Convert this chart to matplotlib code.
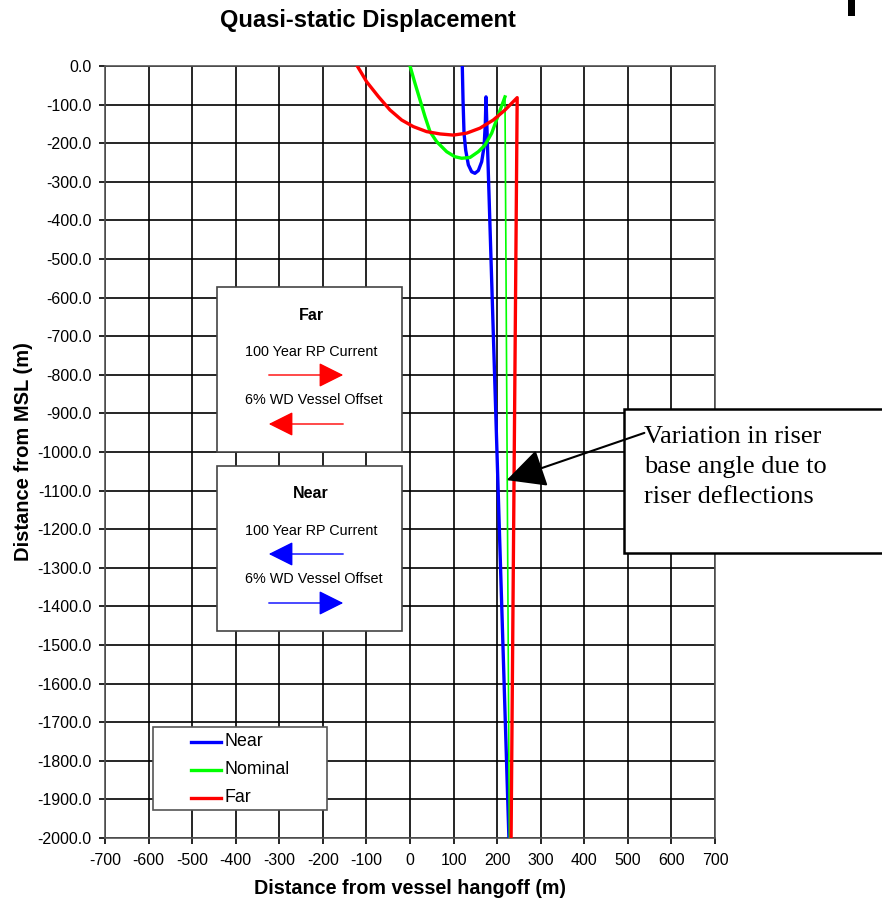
import numpy as np
import matplotlib
matplotlib.use("Agg")
from matplotlib import pyplot as plt
from matplotlib.patches import Rectangle, FancyArrowPatch

plt.rcParams["axes.unicode_minus"] = False

# riser shapes (x = distance from hangoff, y = depth)
near_x = [120, 121.7, 124, 127.8, 133.9, 141.5, 149, 156.8, 164.5, 170, 172.9, 174.4, 227]
near_y = [0, -88, -174, -218, -256, -274, -278, -271, -248, -209, -148, -80, -2000]
nominal_x = [0, 11.5, 23, 34.4, 45.9, 61.2, 84.2, 103, 118.6, 137.7, 156.8, 172, 187.5, 202.7, 218]
nominal_y = [0, -45, -88, -131, -170, -196, -222, -235, -239, -237, -222, -205, -174, -127, -80]
nominal_line_x = [218, 228]
nominal_line_y = [-80, -2000]
far_x = [-121, -99.4, -72.7, -45.9, -19.1, 7.6, 38.2, 68.9, 99.5, 130, 160.7, 191, 218, 246, 232]
far_y = [0, -41, -79, -114, -140, -157, -170, -176, -179, -174, -161, -140, -114, -82, -2000]

x_ticks = list(range(-700, 701, 100))
y_ticks = list(range(0, -2001, -100))

fig = plt.figure(figsize=(8.82, 9.07), dpi=100)
ax = fig.add_axes([105 / 882, 69 / 907, 610 / 882, 772 / 907])

ax.plot(near_x, near_y, color="#0000ff", lw=2.4, zorder=3)
ax.plot(nominal_x, nominal_y, color="#00ff00", lw=2.4, zorder=3)
ax.plot(nominal_line_x, nominal_line_y, color="#00ff00", lw=1.2, zorder=3)
ax.plot(far_x, far_y, color="#ff0000", lw=2.4, zorder=3)

ax.set_xlim(-700, 700)
ax.set_ylim(-2000, 0)
ax.set_xticks(x_ticks)
ax.set_yticks(y_ticks)
ax.set_yticklabels(["%.1f" % v for v in y_ticks])
ax.grid(True, color="black", lw=1.2)
ax.set_axisbelow(True)
for s in ax.spines.values():
    s.set_color("#555555")
    s.set_linewidth(1.2)
ax.tick_params(direction="out", length=4.5, width=1.2, colors="black",
               labelsize=11.5, pad=5)
ax.tick_params(axis="x", pad=6.5)
for lab in ax.get_xticklabels() + ax.get_yticklabels():
    lab.set_family("Liberation Sans")

ax.set_xlabel("Distance from vessel hangoff (m)", family="Liberation Sans",
              fontsize=14.2, fontweight="bold", labelpad=8)
ax.set_ylabel("Distance from MSL (m)", family="Liberation Sans",
              fontsize=14.5, fontweight="bold", labelpad=3)
fig.text(368 / 882, 1 - 21 / 907, "Quasi-static Displacement", ha="center",
         va="center", family="Liberation Sans", fontsize=17, fontweight="bold")

# legend drawn by hand in pixel coords
def px(x, y):
    return x / 882, 1 - y / 907

fig.patches.append(Rectangle(px(153, 810), 174 / 882, 83 / 907, transform=fig.transFigure,
                             facecolor="white", edgecolor="#555555", lw=1.2, zorder=5))
for name, col, yy in [("Near", "#0000ff", 742), ("Nominal", "#00ff00", 770), ("Far", "#ff0000", 798)]:
    fig.lines.append(plt.Line2D([191 / 882, 221 / 882], [1 - yy / 907] * 2,
                                transform=fig.transFigure, color=col, lw=2.4, zorder=6))
    fig.text(224 / 882, 1 - yy / 907, name, ha="left", va="center",
             family="Liberation Sans", fontsize=12.8, zorder=6)

# direction boxes
def dir_box(top, title, col, first_right):
    fig.patches.append(Rectangle(px(217, top + 165), 185 / 882, 165 / 907,
                                 transform=fig.transFigure, facecolor="white",
                                 edgecolor="#444444", lw=1.2, zorder=5))
    fig.text(*px(311, top + 28), title, ha="center", va="center", family="Liberation Sans",
             fontsize=11.5, fontweight="bold", zorder=6)
    fig.text(*px(311, top + 65), "100 Year RP Current", ha="center", va="center",
             family="Liberation Sans", fontsize=10.4, zorder=6)
    fig.text(*px(314, top + 113), "6% WD Vessel Offset", ha="center", va="center",
             family="Liberation Sans", fontsize=10.4, zorder=6)
    for yy, right in [(top + 88, first_right), (top + 137, not first_right)]:
        a, b = (266, 346) if right else (346, 266)
        fig.patches.append(FancyArrowPatch(
            px(a, yy), px(b, yy), transform=fig.transFigure, arrowstyle="-|>,head_length=7,head_width=3.5",
            mutation_scale=2.2, color=col, lw=1, zorder=6))

dir_box(287, "Far", "#ff0000", True)
dir_box(466, "Near", "#0000ff", False)

# callout box
fig.patches.append(Rectangle(px(624, 553), 270 / 882, 144 / 907, transform=fig.transFigure,
                             facecolor="white", edgecolor="black", lw=1.8, zorder=5, clip_on=False))
fig.text(*px(644, 467), "Variation in riser\nbase angle due to\nriser deflections", ha="left",
         va="center", family="Liberation Serif", fontsize=19, linespacing=1.46, zorder=6)
fig.patches.append(FancyArrowPatch(
    px(647, 432), px(504, 481), transform=fig.transFigure,
    arrowstyle="-|>,head_length=11,head_width=5.5", mutation_scale=2.2, color="black", lw=1.5, zorder=7))

# fragment of a letter at top right
fig.patches.append(Rectangle(px(848, 16), 7 / 882, 16 / 907, transform=fig.transFigure,
                             facecolor="black", edgecolor="none"))

fig.savefig("out.png", dpi=100)
